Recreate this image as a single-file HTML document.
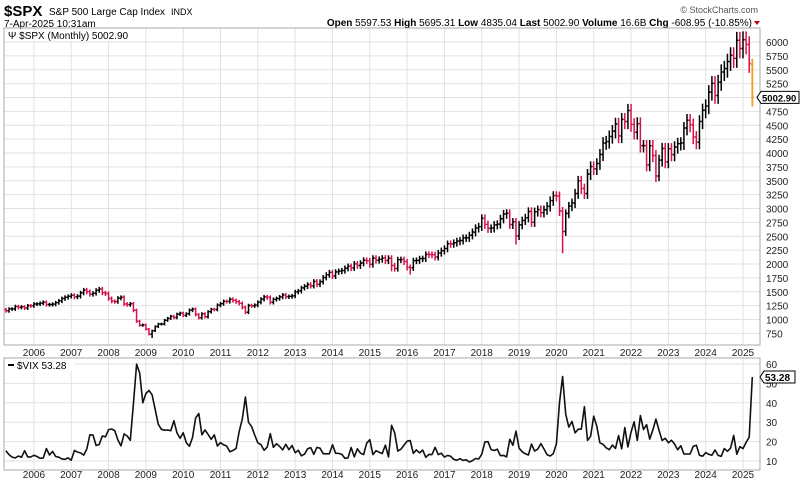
<!DOCTYPE html>
<html><head><meta charset="utf-8"><style>
body{margin:0;background:#fff;width:800px;height:480px;overflow:hidden}
svg text{font-family:"Liberation Sans",sans-serif}
</style></head><body>
<svg id="s" width="800" height="480" xmlns="http://www.w3.org/2000/svg">
<rect width="800" height="480" fill="#fff"/>
<text x="4" y="16" font-size="15" font-weight="bold">$SPX</text>
<text x="49" y="15" font-size="10">S&amp;P 500 Large Cap Index</text>
<text x="171" y="15" font-size="9">INDX</text>
<text x="4" y="27" font-size="10">7-Apr-2025 10:31am</text>
<text x="758" y="13" font-size="9" fill="#555" text-anchor="end">© StockCharts.com</text>
<text x="752" y="26" font-size="10" text-anchor="end"><tspan font-weight="bold">Open</tspan> 5597.53 <tspan font-weight="bold">High</tspan> 5695.31 <tspan font-weight="bold">Low</tspan> 4835.04 <tspan font-weight="bold">Last</tspan> 5002.90 <tspan font-weight="bold">Volume</tspan> 16.6B <tspan font-weight="bold">Chg</tspan> -608.95 (-10.85%)</text>
<path d="M754 21l6 0l-3 4z" fill="#c00"/>
<g id="g"></g>
</svg>
<script>
var NS="http://www.w3.org/2000/svg",g=document.getElementById('g');
function el(t,a,txt){var e=document.createElementNS(NS,t);for(var k in a)e.setAttribute(k,a[k]);if(txt!=null)e.textContent=txt;g.appendChild(e);return e;}
function X(m){return 743+(m-240)*3.11;}
function Y(v){return 42+(6000-v)*0.0555;}
function VY(v){return 461-(v-10)*1.94;}
for(var v=750;v<=6000;v+=250){el('line',{x1:4,x2:760,y1:Y(v),y2:Y(v),stroke:'#e2e2e2','stroke-width':1});el('text',{x:766,y:Y(v)+4,'font-size':10,fill:'#222'},v);}
for(var v=10;v<=60;v+=10){el('line',{x1:4,x2:760,y1:VY(v),y2:VY(v),stroke:'#e2e2e2'});el('text',{x:766,y:VY(v)+4,'font-size':10,fill:'#222'},v);}
for(var y=2006;y<=2025;y++){var x=X((y-2005)*12);
el('line',{x1:x,x2:x,y1:28,y2:345,stroke:'#e2e2e2'});el('line',{x1:x,x2:x,y1:358,y2:470,stroke:'#e2e2e2'});
el('text',{x:x,y:356,'font-size':10,'text-anchor':'middle',fill:'#222'},y);el('text',{x:x,y:478,'font-size':10,'text-anchor':'middle',fill:'#222'},y);}
el('rect',{x:4,y:28,width:756,height:317,fill:'none',stroke:'#aaa'});
el('rect',{x:4,y:358,width:756,height:112,fill:'none',stroke:'#aaa'});
var C=[1181,1157,1191,1191,1234,1220,1229,1207,1249,1248,
1280,1281,1295,1311,1270,1270,1277,1304,1336,1378,1401,1418,
1438,1407,1421,1482,1531,1503,1455,1474,1527,1549,1481,1468,
1379,1331,1323,1386,1400,1280,1267,1283,1166,969,896,903,
826,735,798,873,919,919,987,1021,1057,1036,1096,1115,
1074,1104,1169,1187,1089,1031,1102,1049,1141,1183,1181,1258,
1286,1327,1326,1364,1345,1321,1292,1219,1131,1253,1247,1258,
1312,1366,1408,1398,1310,1362,1379,1407,1441,1412,1416,1426,
1498,1515,1569,1598,1631,1606,1686,1633,1682,1757,1806,1848,
1783,1859,1872,1884,1924,1960,1931,2003,1972,2018,2068,2059,
1995,2105,2068,2086,2107,2063,2104,1972,1920,2079,2080,2044,
1940,1932,2060,2065,2097,2099,2174,2171,2168,2126,2199,2239,
2279,2364,2363,2384,2412,2423,2470,2472,2519,2575,2648,2674,
2824,2714,2641,2648,2705,2718,2816,2902,2914,2712,2760,2507,
2704,2784,2834,2946,2752,2942,2980,2926,2977,3038,3141,3231,
3226,2954,2585,2912,3044,3100,3271,3500,3363,3270,3622,3756,
3714,3811,3973,4181,4204,4298,4395,4523,4308,4605,4567,4766,
4516,4374,4530,4132,4132,3785,4130,3955,3586,3872,4080,3840,
4077,3970,4109,4169,4180,4450,4589,4508,4288,4194,4568,4770,
4846,5096,5254,5036,5278,5460,5522,5648,5762,5705,6032,5882,
6041,5955,5612];
var lows={50:667,182:2192,213:3492,127:1867,133:1810,167:2350};
for(var i=1;i<C.length;i++){var m=i+2,o=C[i-1],c=C[i];var h=Math.max(o,c)*1.025,l=Math.min(o,c)*0.97;
if(lows[m])l=lows[m];var col=c<o?'#d8124a':'#000',x=X(m);
el('path',{d:'M'+x+' '+Y(h)+'V'+Y(l)+'M'+(x-1.5)+' '+Y(o)+'H'+x+'M'+x+' '+Y(c)+'H'+(x+1.5),stroke:col,'stroke-width':1.5,fill:'none'});}
var x=X(243);el('path',{d:'M'+x+' '+Y(5695)+'V'+Y(4835)+'M'+(x-1.5)+' '+Y(5597)+'H'+x+'M'+x+' '+Y(5003)+'H'+(x+1.5),stroke:'#f0a020','stroke-width':1.8,fill:'none'});
var V=[15.3,13.3,12.0,11.6,12.6,11.9,15.3,12.1,12.1,
12.95,12.3,11.4,11.6,16.4,13.1,14.95,12.3,11.98,11.1,10.9,11.6,
10.4,15.4,14.6,14.2,13.05,16.2,23.5,23.4,18.0,18.5,22.9,22.5,
26.2,26.5,25.6,20.8,17.8,23.95,22.9,20.65,39.4,59.9,55.3,40.0,
44.8,46.35,44.1,36.5,28.9,26.35,25.9,26.0,25.6,30.7,24.5,21.7,
24.6,19.5,17.6,22.05,32.1,34.5,23.5,26.05,23.7,21.2,23.5,17.75,
19.5,18.35,17.7,14.75,15.45,16.5,25.25,31.6,42.96,29.96,27.8,23.4,
19.4,18.4,15.5,17.15,24.06,17.08,18.9,17.5,15.7,18.6,15.9,18.0,
14.3,15.5,12.7,13.5,16.3,16.9,13.45,17.0,16.6,13.75,13.7,13.7,
18.4,14.0,13.9,13.4,11.4,11.6,16.95,12.1,16.3,14.0,13.3,19.2,
20.97,13.3,15.3,14.55,13.8,18.2,12.1,28.4,24.5,15.1,16.1,18.2,
20.2,20.55,13.95,15.7,14.2,15.6,11.9,13.4,13.3,17.06,13.3,14.0,
11.99,12.9,12.4,10.8,10.4,11.2,10.3,10.6,9.5,10.2,11.3,11.04,
13.5,19.85,19.97,15.9,15.4,16.1,12.8,12.9,12.1,21.2,18.1,25.4,
16.6,14.8,13.7,13.1,18.7,15.1,16.1,18.98,16.2,13.2,12.6,13.8,
18.8,40.1,53.5,34.15,27.5,30.4,24.5,26.4,26.4,38.0,20.6,22.75,
33.1,27.95,19.4,18.6,16.8,15.8,18.2,16.5,23.1,16.3,27.2,17.2,
24.8,30.2,20.6,33.4,26.2,28.7,21.3,25.9,31.6,25.9,20.6,21.7,
19.4,20.7,18.7,15.8,17.9,13.6,13.6,13.6,17.5,18.1,12.9,12.45,
14.35,13.4,13.0,15.65,12.9,12.4,16.4,15.0,16.7,23.2,13.5,17.35,
16.4,19.6,22.3,53.28];
var d='';for(var i=0;i<V.length;i++){d+=(i?'L':'M')+X(i+3).toFixed(1)+' '+VY(V[i]).toFixed(1);}
el('path',{d:d,stroke:'#111','stroke-width':1.6,fill:'none','stroke-linejoin':'round'});
el('rect',{x:5,y:29,width:135,height:12,fill:'#fff'});
el('text',{x:8,y:39,'font-size':10,'font-family':'Liberation Mono,monospace'},'\u03a8 $SPX (Monthly) 5002.90');
el('rect',{x:5,y:359,width:70,height:12,fill:'#fff'});
el('path',{d:'M8 365H14',stroke:'#000','stroke-width':2});
el('text',{x:17,y:369,'font-size':10,'font-family':'Liberation Mono,monospace'},'$VIX 53.28');
el('path',{d:'M757 '+Y(5003)+'l4 -6h38v12h-38z',fill:'#fff',stroke:'#000'});
el('text',{x:762,y:Y(5003)+4,'font-size':9.5,'font-weight':'bold'},'5002.90');
el('path',{d:'M760 '+VY(53.28)+'l4 -6h31v12h-31z',fill:'#fff',stroke:'#000'});
el('text',{x:765,y:VY(53.28)+4,'font-size':10,'font-weight':'bold'},'53.28');
</script>
</body></html>
